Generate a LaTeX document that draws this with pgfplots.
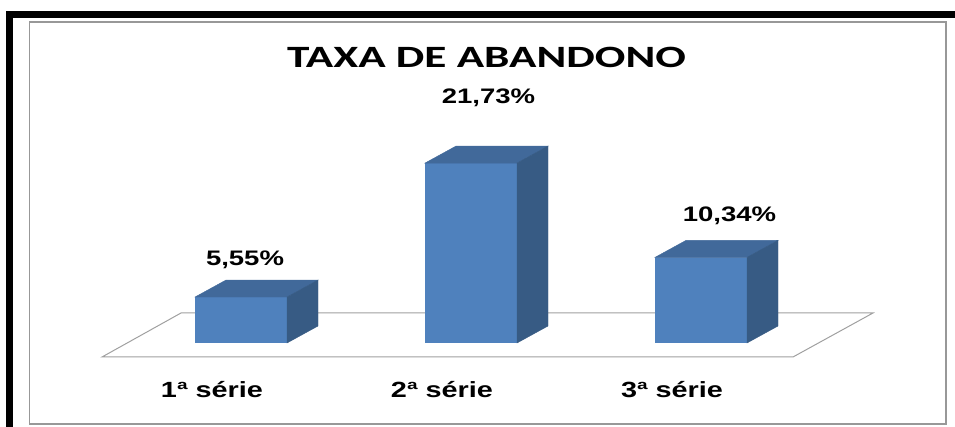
\documentclass[border=0pt]{standalone}
\usepackage{pgfplots}
\pgfplotsset{compat=1.18}
\usepackage{pgfplotstable}
\usepackage{fontspec}
\setmainfont{Liberation Sans}
% the reference text is stretched sideways
\newfontfamily\labfont{Liberation Sans}[FakeStretch=1.31]
\newfontfamily\titfont{Carlito}[FakeStretch=1.46]

\definecolor{barfront}{HTML}{4F81BD}
\definecolor{bartop}{HTML}{41699A}
\definecolor{barside}{HTML}{375B84}
\definecolor{floorline}{HTML}{A0A0A0}
\definecolor{frameline}{HTML}{989898}

% x = category, v = rate (%), ldx/ldy = label offset (bp)
\pgfplotstableread{
x v     ldx  ldy
0 5.55  4    32
1 21.73 17.5 60
2 10.34 28.5 36
}\abandono

% top and side faces of a 3d bar, drawn at the front top centre
\pgfdeclareplotmark{box3d}{%
  \fill[bartop] (-46bp,0bp) -- (46bp,0bp) -- (77bp,17bp) -- (-15bp,17bp) -- cycle;
  \fill[barside] (46bp,0bp) -- (77bp,17bp) -- (77bp,{(17-\hh*8.28)*1bp}) -- (46bp,{-\hh*8.28*1bp}) -- cycle;
}

\begin{document}
\begin{tikzpicture}
\useasboundingbox (0,0) rectangle (955bp,427bp);
\fill[black] (6bp,0bp) rectangle (13bp,416bp);
\fill[black] (6bp,409bp) rectangle (955bp,416bp);
\draw[frameline, line width=1.3bp] (29.5bp,3bp) rectangle (946bp,405bp);
\node[anchor=base, font=\titfont\bfseries\fontsize{31bp}{36bp}\selectfont] at (486.5bp,359bp) {TAXA DE ABANDONO};

\begin{axis}[
  at={(241bp,84bp)}, anchor=origin,
  x=230bp, y=8.28bp,
  xmin=-0.5, xmax=2.5, ymin=0, ymax=28,
  axis lines*=left, axis line style={draw=none},
  ytick=\empty, xtick={0,1,2},
  xticklabels={1ª série,2ª série,3ª série},
  major tick length=0pt,
  xticklabel style={anchor=base, xshift=-29bp, yshift=-54bp,
    font=\labfont\bfseries\fontsize{22bp}{26bp}\selectfont},
  clip=false,
]
\draw[floorline, line width=1bp, fill=white]
  ([shift={(-24bp,-14bp)}]axis cs:-0.5,0) -- ([shift={(55bp,30bp)}]axis cs:-0.5,0)
  -- ([shift={(57bp,30bp)}]axis cs:2.5,0) -- ([shift={(-23bp,-14bp)}]axis cs:2.5,0) -- cycle;

\addplot[ybar, bar width=92bp, fill=barfront, draw=none] table[x=x, y=v] {\abandono};

\addplot[only marks, mark=box3d, color=barfront,
  visualization depends on={rawy \as \hh},
  visualization depends on={\thisrow{ldx} \as \ldx},
  visualization depends on={\thisrow{ldy} \as \ldy},
  nodes near coords={\pgfmathprintnumber[fixed, fixed zerofill, precision=2, use comma, assume math mode=true]{\pgfplotspointmeta}\%},
  nodes near coords style={anchor=base, xshift={\ldx*1bp}, yshift={\ldy*1bp},
    text=black, font=\labfont\bfseries\fontsize{21bp}{25bp}\selectfont},
] table[x=x, y=v] {\abandono};
\end{axis}
\end{tikzpicture}
\end{document}
